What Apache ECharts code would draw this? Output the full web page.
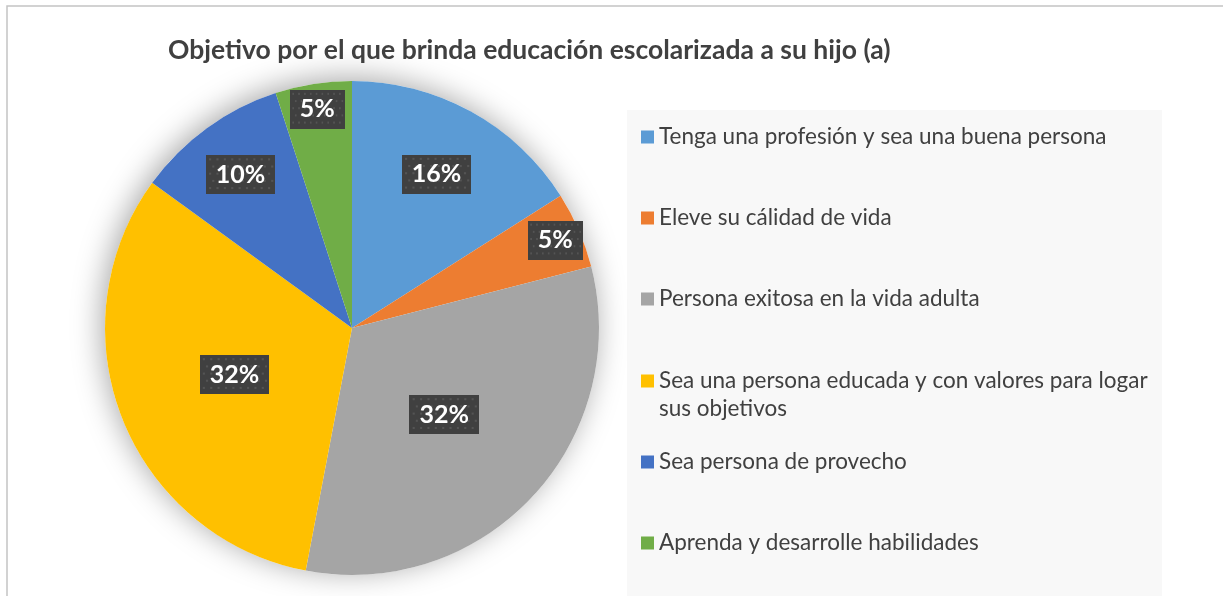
<!DOCTYPE html>
<html>
<head>
<meta charset="utf-8">
<script src="https://cdn.jsdelivr.net/npm/echarts@6/dist/echarts.min.js"></script>
<style>
html,body{margin:0;padding:0;background:#fff;}
#chart{width:1223px;height:596px;}
</style>
</head>
<body>
<div id="chart"></div>
<script>
// ---- data ----
const titleText = 'Objetivo por el que brinda educación escolarizada a su hijo (a)';
const categories = [
  'Tenga una profesión y sea una buena persona',
  'Eleve su cálidad de vida',
  'Persona exitosa en la vida adulta',
  'Sea una persona educada y con valores para logar sus objetivos',
  'Sea persona de provecho',
  'Aprenda y desarrolle habilidades'
];
const values = [16, 5, 32, 32, 10, 5];
const colors = ['#5b9bd5', '#ed7d31', '#a5a5a5', '#ffc000', '#4472c4', '#70ad47'];

// ---- styling helpers ----
const FONT = 'Lato, "Open Sans", sans-serif';
const CENTER = [352, 328];
const R = 247;

// dotted dark label background
const pat = document.createElement('canvas');
pat.width = 66; pat.height = 38;
(function () {
  const g = pat.getContext('2d');
  g.fillStyle = '#404040';
  g.fillRect(0, 0, 66, 38);
  g.fillStyle = '#545454';
  for (let y = 3; y < 38; y += 7) {
    for (let x = 3; x < 66; x += 7) {
      g.fillRect(x + ((Math.floor(y / 7) % 2) ? 3 : 0), y, 2, 2);
    }
  }
})();

const labelBox = {
  show: true,
  position: 'inside',
  formatter: p => Math.round(p.percent) + '%',
  color: '#ffffff',
  fontFamily: FONT,
  fontWeight: 'bold',
  fontSize: 25,
  lineHeight: 29,
  backgroundColor: { image: pat },
  padding: [6, 10, 4, 10],
  shadowColor: 'rgba(0,0,0,0.5)',
  shadowBlur: 6,
  shadowOffsetX: 3,
  shadowOffsetY: 3
};

function pieData(showIdx, transparent) {
  return categories.map((c, i) => ({
    name: c,
    value: values[i],
    itemStyle: transparent ? { color: 'rgba(0,0,0,0)' } : { color: colors[i] },
    label: showIdx.indexOf(i) >= 0 ? labelBox : { show: false }
  }));
}

function labelSeries(radius, showIdx) {
  return {
    type: 'pie',
    center: CENTER,
    radius: radius,
    startAngle: 90,
    silent: true,
    z: 5,
    emphasis: { disabled: true },
    labelLine: { show: false },
    data: pieData(showIdx, true)
  };
}

const legendText = {
  fontFamily: FONT,
  fontSize: 22.5,
  lineHeight: 28,
  color: '#404040'
};

const chart = echarts.init(document.getElementById('chart'), null, { renderer: 'canvas' });
chart.setOption({
  animation: false,
  backgroundColor: '#ffffff',
  graphic: [
    { type: 'rect', z: -10, shape: { x: 7, y: 6, width: 1400, height: 800 },
      style: { fill: 'none', stroke: '#c4c4c4', lineWidth: 1.5 } },
    { type: 'rect', z: -9, shape: { x: 627, y: 110, width: 535, height: 500 },
      style: { fill: '#f8f8f8' } }
  ],
  title: {
    text: titleText,
    left: 168,
    top: 35,
    padding: 0,
    textStyle: { fontFamily: FONT, fontSize: 26.5, fontWeight: 'bold', color: '#404040', lineHeight: 30 }
  },
  legend: [
    {
      orient: 'vertical', left: 641, top: 123, itemWidth: 13, itemHeight: 13, itemGap: 53,
      selectedMode: false, icon: 'rect', textStyle: legendText, padding: 0,
      data: categories.slice(0, 3)
    },
    {
      orient: 'vertical', left: 641, top: 339, itemWidth: 13, itemHeight: 13,
      selectedMode: false, icon: 'rect', padding: 0,
      formatter: name => '\n' + name,
      textStyle: Object.assign({}, legendText, { width: 500, overflow: 'break' }),
      data: categories.slice(3, 4)
    },
    {
      orient: 'vertical', left: 641, top: 448, itemWidth: 13, itemHeight: 13, itemGap: 53,
      selectedMode: false, icon: 'rect', textStyle: legendText, padding: 0,
      data: categories.slice(4, 6)
    }
  ],
  series: [
    {
      type: 'pie',
      name: 'main',
      center: CENTER,
      radius: R,
      startAngle: 90,
      z: 2,
      emphasis: { disabled: true },
      labelLine: { show: false },
      itemStyle: { borderWidth: 0 },
      data: pieData([2, 3], false)
    },
    {
      type: 'pie',
      name: 'backdrop',
      center: CENTER,
      radius: R,
      silent: true,
      z: 1,
      label: { show: false },
      labelLine: { show: false },
      emphasis: { disabled: true },
      itemStyle: { color: '#ffffff', shadowBlur: 30, shadowOffsetX: -3, shadowOffsetY: -3, shadowColor: 'rgba(0,0,0,0.35)' },
      data: [{ name: ' ', value: 1 }]
    },
    labelSeries([98, R], [0]),
    labelSeries([126, R], [4]),
    labelSeries([190, R], [1, 5])
  ]
});
</script>
</body>
</html>
